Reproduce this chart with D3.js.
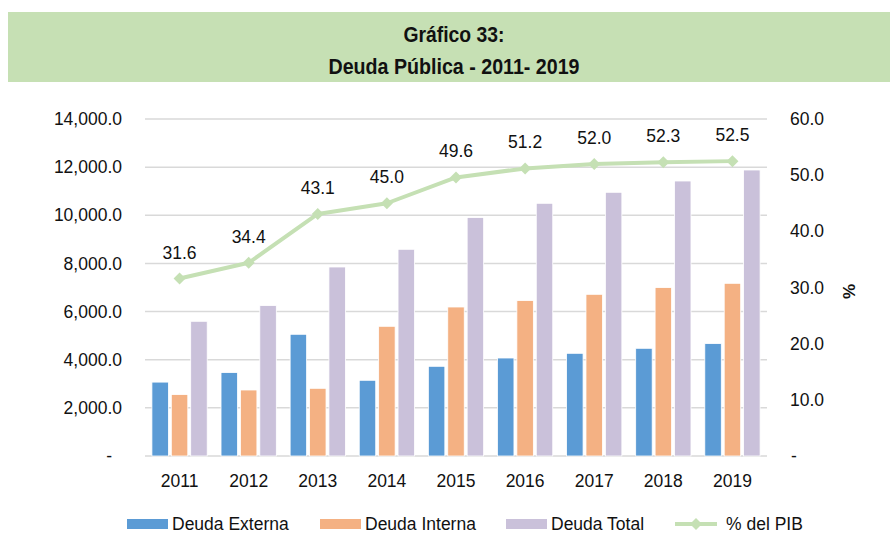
<!DOCTYPE html>
<html>
<head>
<meta charset="utf-8">
<script src="https://cdn.jsdelivr.net/npm/d3@7/dist/d3.min.js"></script>
<style>
  html, body { margin: 0; padding: 0; background: #fff; }
  svg { display: block; }
  text { font-family: "Liberation Sans", Arial, sans-serif; fill: #111; }
</style>
</head>
<body>
<svg id="chart" width="890" height="534"></svg>
<script>
// Deuda pública 2011-2019 (millones) y su relación con el PIB (%)
const years = ["2011", "2012", "2013", "2014", "2015", "2016", "2017", "2018", "2019"];
const deudaExterna = [3070, 3465, 5056, 3145, 3726, 4071, 4266, 4474, 4669];
const deudaInterna = [2551, 2742, 2812, 5388, 6190, 6456, 6717, 6996, 7174];
const deudaTotal   = [5596, 6248, 7852, 8587, 9904, 10498, 10955, 11424, 11881];
const pctPIB       = [31.6, 34.4, 43.1, 45.0, 49.6, 51.2, 52.0, 52.3, 52.5];
const leftTicks  = [0, 2000, 4000, 6000, 8000, 10000, 12000, 14000];
const rightTicks = [0, 10, 20, 30, 40, 50, 60];
const seriesNames = ["Deuda Externa", "Deuda Interna", "Deuda Total"];
const lineName = "% del PIB";
const titleLines = ["Gráfico 33:", "Deuda Pública - 2011- 2019"];

const colors = { "Deuda Externa": "#5B9BD5", "Deuda Interna": "#F4B183", "Deuda Total": "#CAC1DA" };
const lineColor = "#C5E0B4";

const svg = d3.select("#chart");
const plot = { left: 145, right: 767, top: 119, bottom: 456 };

// Title band (condensed bold heading)
svg.append("rect").attr("x", 8).attr("y", 12).attr("width", 882).attr("height", 70).attr("fill", "#C6E0B4");
const titleWidths = [101, 251];
svg.selectAll("text.title").data(titleLines).join("text")
  .attr("class", "title")
  .attr("x", 454).attr("y", (d, i) => 41.5 + i * 32)
  .attr("text-anchor", "middle")
  .attr("textLength", (d, i) => titleWidths[i])
  .attr("lengthAdjust", "spacingAndGlyphs")
  .style("font-weight", "bold").style("font-size", "22px")
  .text(d => d);

const x0 = d3.scaleBand().domain(years).range([plot.left, plot.right]).paddingInner(0.2).paddingOuter(0.1);
const x1 = d3.scaleBand().domain(seriesNames).range([0, x0.bandwidth()]).paddingInner(0.15);
const yL = d3.scaleLinear().domain([0, 14000]).range([plot.bottom, plot.top]);
const yR = d3.scaleLinear().domain([0, 60]).range([plot.bottom, plot.top]);

// Gridlines
svg.append("g").selectAll("line").data(leftTicks).join("line")
  .attr("x1", plot.left).attr("x2", plot.right)
  .attr("y1", d => yL(d)).attr("y2", d => yL(d))
  .attr("stroke", "#D9D9D9").attr("stroke-width", 1.5);

// Left axis labels
const fmt = d3.format(",.1f");
svg.append("g").selectAll("text").data(leftTicks).join("text")
  .attr("x", d => d === 0 ? 112 : 122)
  .attr("y", d => yL(d))
  .attr("dy", "0.35em")
  .attr("text-anchor", "end")
  .style("font-size", "17.5px")
  .text(d => d === 0 ? "-" : fmt(d));

// Right axis labels
svg.append("g").selectAll("text").data(rightTicks).join("text")
  .attr("x", d => d === 0 ? 791 : 790)
  .attr("y", d => yR(d))
  .attr("dy", "0.35em")
  .attr("text-anchor", "start")
  .style("font-size", "17.5px")
  .text(d => d === 0 ? "-" : fmt(d));

svg.append("text")
  .attr("transform", `translate(849,${(plot.top + plot.bottom) / 2 + 4}) rotate(-90)`)
  .attr("text-anchor", "middle")
  .attr("dy", "0.35em")
  .style("font-size", "17px").style("font-weight", "bold")
  .text("%");

// Bars
const barData = [];
years.forEach((yr, i) => {
  barData.push({ yr, s: "Deuda Externa", v: deudaExterna[i] });
  barData.push({ yr, s: "Deuda Interna", v: deudaInterna[i] });
  barData.push({ yr, s: "Deuda Total", v: deudaTotal[i] });
});
svg.append("g").selectAll("rect").data(barData).join("rect")
  .attr("x", d => x0(d.yr) + x1(d.s))
  .attr("y", d => yL(d.v))
  .attr("width", x1.bandwidth())
  .attr("height", d => yL(0) - yL(d.v))
  .attr("fill", d => colors[d.s])
  .attr("stroke", "#fff").attr("stroke-width", 0.8);

// Year labels
svg.append("g").selectAll("text").data(years).join("text")
  .attr("x", d => x0(d) + x0.bandwidth() / 2)
  .attr("y", 481).attr("dy", "0.35em")
  .attr("text-anchor", "middle")
  .style("font-size", "17.5px")
  .text(d => d);

// % del PIB line
const cx = i => x0(years[i]) + x0.bandwidth() / 2;
const line = d3.line().x((d, i) => cx(i)).y(d => yR(d));
svg.append("path").datum(pctPIB)
  .attr("d", line).attr("fill", "none")
  .attr("stroke", lineColor).attr("stroke-width", 4).attr("stroke-linejoin", "round");

const diamond = (x, y, r) => `M${x},${y - r}L${x + r},${y}L${x},${y + r}L${x - r},${y}Z`;
svg.append("g").selectAll("path").data(pctPIB).join("path")
  .attr("d", (d, i) => diamond(cx(i), yR(d), 6))
  .attr("fill", lineColor);

svg.append("g").selectAll("text").data(pctPIB).join("text")
  .attr("x", (d, i) => cx(i))
  .attr("y", d => yR(d) - 20)
  .attr("text-anchor", "middle")
  .style("font-size", "17.5px")
  .text(d => d.toFixed(1));

// Legend
const legendY = 524;
const legendItems = [
  { name: "Deuda Externa", x: 127, type: "bar" },
  { name: "Deuda Interna", x: 320, type: "bar" },
  { name: "Deuda Total", x: 506, type: "bar" },
  { name: lineName, x: 675, type: "line" }
];
const lg = svg.append("g").selectAll("g").data(legendItems).join("g")
  .attr("transform", d => `translate(${d.x},${legendY})`);
lg.filter(d => d.type === "bar").append("rect")
  .attr("x", 0).attr("y", -5).attr("width", 41).attr("height", 10)
  .attr("fill", d => colors[d.name]);
lg.filter(d => d.type === "line").append("line")
  .attr("x1", 0).attr("x2", 42).attr("y1", 0).attr("y2", 0)
  .attr("stroke", lineColor).attr("stroke-width", 4);
lg.filter(d => d.type === "line").append("path")
  .attr("d", diamond(21, 0, 6)).attr("fill", lineColor);
lg.append("text")
  .attr("x", d => d.type === "line" ? 51 : 45)
  .attr("y", 0).attr("dy", "0.35em")
  .style("font-size", "17.5px")
  .text(d => d.name);
</script>
</body>
</html>
